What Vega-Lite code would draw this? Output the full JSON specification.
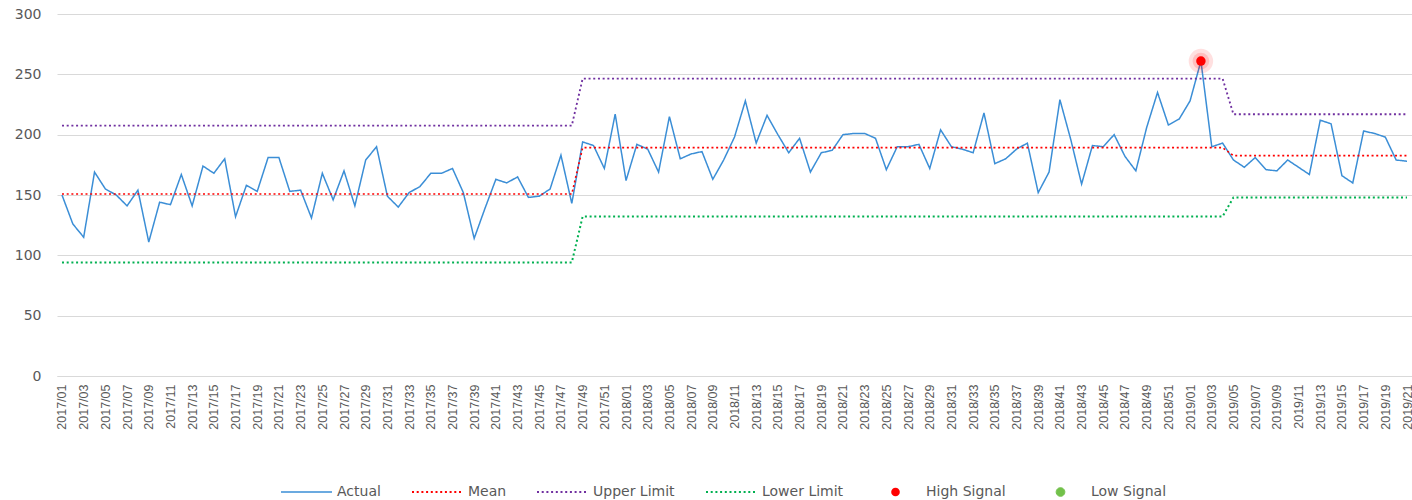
{
  "$schema": "https://vega.github.io/schema/vega-lite/v6.json",
  "autosize": "none",
  "width": 1355,
  "height": 362,
  "padding": {"left": 57, "top": 14, "right": 0, "bottom": 124},
  "background": "white",
  "config": {"view": {"stroke": null}, "font": "DejaVu Sans"},
  "datasets": {
    "main": [
      {"week":"2017/01","Actual":150,"Mean":150.8,"Upper Limit":207.5,"Lower Limit":94.1},
      {"week":"2017/02","Actual":126,"Mean":150.8,"Upper Limit":207.5,"Lower Limit":94.1},
      {"week":"2017/03","Actual":115,"Mean":150.8,"Upper Limit":207.5,"Lower Limit":94.1},
      {"week":"2017/04","Actual":169,"Mean":150.8,"Upper Limit":207.5,"Lower Limit":94.1},
      {"week":"2017/05","Actual":155,"Mean":150.8,"Upper Limit":207.5,"Lower Limit":94.1},
      {"week":"2017/06","Actual":150,"Mean":150.8,"Upper Limit":207.5,"Lower Limit":94.1},
      {"week":"2017/07","Actual":141,"Mean":150.8,"Upper Limit":207.5,"Lower Limit":94.1},
      {"week":"2017/08","Actual":154,"Mean":150.8,"Upper Limit":207.5,"Lower Limit":94.1},
      {"week":"2017/09","Actual":111,"Mean":150.8,"Upper Limit":207.5,"Lower Limit":94.1},
      {"week":"2017/10","Actual":144,"Mean":150.8,"Upper Limit":207.5,"Lower Limit":94.1},
      {"week":"2017/11","Actual":142,"Mean":150.8,"Upper Limit":207.5,"Lower Limit":94.1},
      {"week":"2017/12","Actual":167,"Mean":150.8,"Upper Limit":207.5,"Lower Limit":94.1},
      {"week":"2017/13","Actual":141,"Mean":150.8,"Upper Limit":207.5,"Lower Limit":94.1},
      {"week":"2017/14","Actual":174,"Mean":150.8,"Upper Limit":207.5,"Lower Limit":94.1},
      {"week":"2017/15","Actual":168,"Mean":150.8,"Upper Limit":207.5,"Lower Limit":94.1},
      {"week":"2017/16","Actual":180,"Mean":150.8,"Upper Limit":207.5,"Lower Limit":94.1},
      {"week":"2017/17","Actual":132,"Mean":150.8,"Upper Limit":207.5,"Lower Limit":94.1},
      {"week":"2017/18","Actual":158,"Mean":150.8,"Upper Limit":207.5,"Lower Limit":94.1},
      {"week":"2017/19","Actual":153,"Mean":150.8,"Upper Limit":207.5,"Lower Limit":94.1},
      {"week":"2017/20","Actual":181,"Mean":150.8,"Upper Limit":207.5,"Lower Limit":94.1},
      {"week":"2017/21","Actual":181,"Mean":150.8,"Upper Limit":207.5,"Lower Limit":94.1},
      {"week":"2017/22","Actual":153,"Mean":150.8,"Upper Limit":207.5,"Lower Limit":94.1},
      {"week":"2017/23","Actual":154,"Mean":150.8,"Upper Limit":207.5,"Lower Limit":94.1},
      {"week":"2017/24","Actual":131,"Mean":150.8,"Upper Limit":207.5,"Lower Limit":94.1},
      {"week":"2017/25","Actual":168,"Mean":150.8,"Upper Limit":207.5,"Lower Limit":94.1},
      {"week":"2017/26","Actual":146,"Mean":150.8,"Upper Limit":207.5,"Lower Limit":94.1},
      {"week":"2017/27","Actual":170,"Mean":150.8,"Upper Limit":207.5,"Lower Limit":94.1},
      {"week":"2017/28","Actual":141,"Mean":150.8,"Upper Limit":207.5,"Lower Limit":94.1},
      {"week":"2017/29","Actual":179,"Mean":150.8,"Upper Limit":207.5,"Lower Limit":94.1},
      {"week":"2017/30","Actual":190,"Mean":150.8,"Upper Limit":207.5,"Lower Limit":94.1},
      {"week":"2017/31","Actual":149,"Mean":150.8,"Upper Limit":207.5,"Lower Limit":94.1},
      {"week":"2017/32","Actual":140,"Mean":150.8,"Upper Limit":207.5,"Lower Limit":94.1},
      {"week":"2017/33","Actual":152,"Mean":150.8,"Upper Limit":207.5,"Lower Limit":94.1},
      {"week":"2017/34","Actual":157,"Mean":150.8,"Upper Limit":207.5,"Lower Limit":94.1},
      {"week":"2017/35","Actual":168,"Mean":150.8,"Upper Limit":207.5,"Lower Limit":94.1},
      {"week":"2017/36","Actual":168,"Mean":150.8,"Upper Limit":207.5,"Lower Limit":94.1},
      {"week":"2017/37","Actual":172,"Mean":150.8,"Upper Limit":207.5,"Lower Limit":94.1},
      {"week":"2017/38","Actual":152,"Mean":150.8,"Upper Limit":207.5,"Lower Limit":94.1},
      {"week":"2017/39","Actual":114,"Mean":150.8,"Upper Limit":207.5,"Lower Limit":94.1},
      {"week":"2017/40","Actual":139,"Mean":150.8,"Upper Limit":207.5,"Lower Limit":94.1},
      {"week":"2017/41","Actual":163,"Mean":150.8,"Upper Limit":207.5,"Lower Limit":94.1},
      {"week":"2017/42","Actual":160,"Mean":150.8,"Upper Limit":207.5,"Lower Limit":94.1},
      {"week":"2017/43","Actual":165,"Mean":150.8,"Upper Limit":207.5,"Lower Limit":94.1},
      {"week":"2017/44","Actual":148,"Mean":150.8,"Upper Limit":207.5,"Lower Limit":94.1},
      {"week":"2017/45","Actual":149,"Mean":150.8,"Upper Limit":207.5,"Lower Limit":94.1},
      {"week":"2017/46","Actual":155,"Mean":150.8,"Upper Limit":207.5,"Lower Limit":94.1},
      {"week":"2017/47","Actual":183,"Mean":150.8,"Upper Limit":207.5,"Lower Limit":94.1},
      {"week":"2017/48","Actual":143,"Mean":150.8,"Upper Limit":207.5,"Lower Limit":94.1},
      {"week":"2017/49","Actual":194,"Mean":189.2,"Upper Limit":246.5,"Lower Limit":132.2},
      {"week":"2017/50","Actual":191,"Mean":189.2,"Upper Limit":246.5,"Lower Limit":132.2},
      {"week":"2017/51","Actual":172,"Mean":189.2,"Upper Limit":246.5,"Lower Limit":132.2},
      {"week":"2017/52","Actual":217,"Mean":189.2,"Upper Limit":246.5,"Lower Limit":132.2},
      {"week":"2018/01","Actual":162,"Mean":189.2,"Upper Limit":246.5,"Lower Limit":132.2},
      {"week":"2018/02","Actual":192,"Mean":189.2,"Upper Limit":246.5,"Lower Limit":132.2},
      {"week":"2018/03","Actual":188,"Mean":189.2,"Upper Limit":246.5,"Lower Limit":132.2},
      {"week":"2018/04","Actual":169,"Mean":189.2,"Upper Limit":246.5,"Lower Limit":132.2},
      {"week":"2018/05","Actual":215,"Mean":189.2,"Upper Limit":246.5,"Lower Limit":132.2},
      {"week":"2018/06","Actual":180,"Mean":189.2,"Upper Limit":246.5,"Lower Limit":132.2},
      {"week":"2018/07","Actual":184,"Mean":189.2,"Upper Limit":246.5,"Lower Limit":132.2},
      {"week":"2018/08","Actual":186,"Mean":189.2,"Upper Limit":246.5,"Lower Limit":132.2},
      {"week":"2018/09","Actual":163,"Mean":189.2,"Upper Limit":246.5,"Lower Limit":132.2},
      {"week":"2018/10","Actual":179,"Mean":189.2,"Upper Limit":246.5,"Lower Limit":132.2},
      {"week":"2018/11","Actual":198,"Mean":189.2,"Upper Limit":246.5,"Lower Limit":132.2},
      {"week":"2018/12","Actual":228,"Mean":189.2,"Upper Limit":246.5,"Lower Limit":132.2},
      {"week":"2018/13","Actual":193,"Mean":189.2,"Upper Limit":246.5,"Lower Limit":132.2},
      {"week":"2018/14","Actual":216,"Mean":189.2,"Upper Limit":246.5,"Lower Limit":132.2},
      {"week":"2018/15","Actual":200,"Mean":189.2,"Upper Limit":246.5,"Lower Limit":132.2},
      {"week":"2018/16","Actual":185,"Mean":189.2,"Upper Limit":246.5,"Lower Limit":132.2},
      {"week":"2018/17","Actual":197,"Mean":189.2,"Upper Limit":246.5,"Lower Limit":132.2},
      {"week":"2018/18","Actual":169,"Mean":189.2,"Upper Limit":246.5,"Lower Limit":132.2},
      {"week":"2018/19","Actual":185,"Mean":189.2,"Upper Limit":246.5,"Lower Limit":132.2},
      {"week":"2018/20","Actual":187,"Mean":189.2,"Upper Limit":246.5,"Lower Limit":132.2},
      {"week":"2018/21","Actual":200,"Mean":189.2,"Upper Limit":246.5,"Lower Limit":132.2},
      {"week":"2018/22","Actual":201,"Mean":189.2,"Upper Limit":246.5,"Lower Limit":132.2},
      {"week":"2018/23","Actual":201,"Mean":189.2,"Upper Limit":246.5,"Lower Limit":132.2},
      {"week":"2018/24","Actual":197,"Mean":189.2,"Upper Limit":246.5,"Lower Limit":132.2},
      {"week":"2018/25","Actual":171,"Mean":189.2,"Upper Limit":246.5,"Lower Limit":132.2},
      {"week":"2018/26","Actual":190,"Mean":189.2,"Upper Limit":246.5,"Lower Limit":132.2},
      {"week":"2018/27","Actual":190,"Mean":189.2,"Upper Limit":246.5,"Lower Limit":132.2},
      {"week":"2018/28","Actual":192,"Mean":189.2,"Upper Limit":246.5,"Lower Limit":132.2},
      {"week":"2018/29","Actual":172,"Mean":189.2,"Upper Limit":246.5,"Lower Limit":132.2},
      {"week":"2018/30","Actual":204,"Mean":189.2,"Upper Limit":246.5,"Lower Limit":132.2},
      {"week":"2018/31","Actual":190,"Mean":189.2,"Upper Limit":246.5,"Lower Limit":132.2},
      {"week":"2018/32","Actual":188,"Mean":189.2,"Upper Limit":246.5,"Lower Limit":132.2},
      {"week":"2018/33","Actual":185,"Mean":189.2,"Upper Limit":246.5,"Lower Limit":132.2},
      {"week":"2018/34","Actual":218,"Mean":189.2,"Upper Limit":246.5,"Lower Limit":132.2},
      {"week":"2018/35","Actual":176,"Mean":189.2,"Upper Limit":246.5,"Lower Limit":132.2},
      {"week":"2018/36","Actual":180,"Mean":189.2,"Upper Limit":246.5,"Lower Limit":132.2},
      {"week":"2018/37","Actual":188,"Mean":189.2,"Upper Limit":246.5,"Lower Limit":132.2},
      {"week":"2018/38","Actual":193,"Mean":189.2,"Upper Limit":246.5,"Lower Limit":132.2},
      {"week":"2018/39","Actual":152,"Mean":189.2,"Upper Limit":246.5,"Lower Limit":132.2},
      {"week":"2018/40","Actual":169,"Mean":189.2,"Upper Limit":246.5,"Lower Limit":132.2},
      {"week":"2018/41","Actual":229,"Mean":189.2,"Upper Limit":246.5,"Lower Limit":132.2},
      {"week":"2018/42","Actual":196,"Mean":189.2,"Upper Limit":246.5,"Lower Limit":132.2},
      {"week":"2018/43","Actual":159,"Mean":189.2,"Upper Limit":246.5,"Lower Limit":132.2},
      {"week":"2018/44","Actual":191,"Mean":189.2,"Upper Limit":246.5,"Lower Limit":132.2},
      {"week":"2018/45","Actual":190,"Mean":189.2,"Upper Limit":246.5,"Lower Limit":132.2},
      {"week":"2018/46","Actual":200,"Mean":189.2,"Upper Limit":246.5,"Lower Limit":132.2},
      {"week":"2018/47","Actual":182,"Mean":189.2,"Upper Limit":246.5,"Lower Limit":132.2},
      {"week":"2018/48","Actual":170,"Mean":189.2,"Upper Limit":246.5,"Lower Limit":132.2},
      {"week":"2018/49","Actual":206,"Mean":189.2,"Upper Limit":246.5,"Lower Limit":132.2},
      {"week":"2018/50","Actual":235,"Mean":189.2,"Upper Limit":246.5,"Lower Limit":132.2},
      {"week":"2018/51","Actual":208,"Mean":189.2,"Upper Limit":246.5,"Lower Limit":132.2},
      {"week":"2018/52","Actual":213,"Mean":189.2,"Upper Limit":246.5,"Lower Limit":132.2},
      {"week":"2019/01","Actual":228,"Mean":189.2,"Upper Limit":246.5,"Lower Limit":132.2},
      {"week":"2019/02","Actual":261,"Mean":189.2,"Upper Limit":246.5,"Lower Limit":132.2},
      {"week":"2019/03","Actual":190,"Mean":189.2,"Upper Limit":246.5,"Lower Limit":132.2},
      {"week":"2019/04","Actual":193,"Mean":189.2,"Upper Limit":246.5,"Lower Limit":132.2},
      {"week":"2019/05","Actual":179,"Mean":182.6,"Upper Limit":216.9,"Lower Limit":148.0},
      {"week":"2019/06","Actual":173,"Mean":182.6,"Upper Limit":216.9,"Lower Limit":148.0},
      {"week":"2019/07","Actual":181,"Mean":182.6,"Upper Limit":216.9,"Lower Limit":148.0},
      {"week":"2019/08","Actual":171,"Mean":182.6,"Upper Limit":216.9,"Lower Limit":148.0},
      {"week":"2019/09","Actual":170,"Mean":182.6,"Upper Limit":216.9,"Lower Limit":148.0},
      {"week":"2019/10","Actual":179,"Mean":182.6,"Upper Limit":216.9,"Lower Limit":148.0},
      {"week":"2019/11","Actual":173,"Mean":182.6,"Upper Limit":216.9,"Lower Limit":148.0},
      {"week":"2019/12","Actual":167,"Mean":182.6,"Upper Limit":216.9,"Lower Limit":148.0},
      {"week":"2019/13","Actual":212,"Mean":182.6,"Upper Limit":216.9,"Lower Limit":148.0},
      {"week":"2019/14","Actual":209,"Mean":182.6,"Upper Limit":216.9,"Lower Limit":148.0},
      {"week":"2019/15","Actual":166,"Mean":182.6,"Upper Limit":216.9,"Lower Limit":148.0},
      {"week":"2019/16","Actual":160,"Mean":182.6,"Upper Limit":216.9,"Lower Limit":148.0},
      {"week":"2019/17","Actual":203,"Mean":182.6,"Upper Limit":216.9,"Lower Limit":148.0},
      {"week":"2019/18","Actual":201,"Mean":182.6,"Upper Limit":216.9,"Lower Limit":148.0},
      {"week":"2019/19","Actual":198,"Mean":182.6,"Upper Limit":216.9,"Lower Limit":148.0},
      {"week":"2019/20","Actual":179,"Mean":182.6,"Upper Limit":216.9,"Lower Limit":148.0},
      {"week":"2019/21","Actual":178,"Mean":182.6,"Upper Limit":216.9,"Lower Limit":148.0}
    ],
    "signals": [
      {"week":"2019/02","series":"High Signal","value":261}
    ]
  },
  "encoding": {
    "x": {
      "field": "week", "type": "ordinal", "title": null,
      "scale": {"type": "point", "padding": 0.46},
      "axis": {
        "values": ["2017/01","2017/03","2017/05","2017/07","2017/09","2017/11","2017/13","2017/15","2017/17","2017/19","2017/21","2017/23","2017/25","2017/27","2017/29","2017/31","2017/33","2017/35","2017/37","2017/39","2017/41","2017/43","2017/45","2017/47","2017/49","2017/51","2018/01","2018/03","2018/05","2018/07","2018/09","2018/11","2018/13","2018/15","2018/17","2018/19","2018/21","2018/23","2018/25","2018/27","2018/29","2018/31","2018/33","2018/35","2018/37","2018/39","2018/41","2018/43","2018/45","2018/47","2018/49","2018/51","2019/01","2019/03","2019/05","2019/07","2019/09","2019/11","2019/13","2019/15","2019/17","2019/19","2019/21"],
        "labelAngle": 270, "ticks": false, "grid": false, "domain": true,
        "domainColor": "#d9d9d9", "labelColor": "#595959",
        "labelFont": "Liberation Sans", "labelFontSize": 12.5, "labelPadding": 8,
        "labelOverlap": false, "labelBound": false
      }
    },
    "y": {
      "field": "value", "type": "quantitative", "title": null,
      "scale": {"domain": [0, 300]},
      "axis": {
        "values": [0, 50, 100, 150, 200, 250, 300],
        "ticks": false, "domain": false, "grid": true, "gridColor": "#d9d9d9",
        "labelColor": "#595959", "labelFont": "DejaVu Sans", "labelFontSize": 14,
        "labelPadding": 16
      }
    }
  },
  "layer": [
    {
      "data": {"name": "main"},
      "transform": [{"fold": ["Actual", "Mean", "Upper Limit", "Lower Limit"], "as": ["series", "value"]}],
      "mark": {"type": "line", "interpolate": "linear"},
      "encoding": {
        "color": {
          "field": "series", "type": "nominal", "title": null,
          "scale": {
            "domain": ["Actual", "Mean", "Upper Limit", "Lower Limit", "High Signal", "Low Signal"],
            "range": ["#3B8ED6", "#FF0000", "#7030A0", "#00B050", "#FF0000", "#72C14A"]
          },
          "legend": {
            "orient": "none", "legendX": 242.5, "legendY": 471, "direction": "horizontal",
            "symbolType": "stroke", "symbolSize": 2601, "symbolStrokeWidth": 2,
            "labelFont": "DejaVu Sans", "labelFontSize": 14, "labelColor": "#595959",
            "labelOffset": 23.5, "columnPadding": 26,
            "encode": {
              "symbols": {
                "update": {
                  "shape": {"signal": "datum.value === 'High Signal' || datum.value === 'Low Signal' ? 'M -1 0 M 1 0 M -0.17 0 A 0.17 0.17 0 1 0 0.17 0 A 0.17 0.17 0 1 0 -0.17 0 Z' : 'stroke'"},
                  "size": {"value": 2601},
                  "fill": {"signal": "datum.value === 'High Signal' ? '#FF0000' : datum.value === 'Low Signal' ? '#72C14A' : 'transparent'"},
                  "stroke": {"signal": "datum.value === 'High Signal' ? 'transparent' : datum.value === 'Low Signal' ? '#4EA72E' : scale('color', datum.value)"},
                  "strokeWidth": {"signal": "datum.value === 'Actual' ? 1.5 : datum.value === 'High Signal' ? 0 : datum.value === 'Low Signal' ? 1 : 2"}
                }
              }
            }
          }
        },
        "strokeDash": {
          "field": "series", "type": "nominal", "title": null,
          "scale": {
            "domain": ["Actual", "Mean", "Upper Limit", "Lower Limit", "High Signal", "Low Signal"],
            "range": [[1, 0], [2, 2.7], [2, 2.7], [2, 2.7], [1, 0], [1, 0]]
          }
        },
        "strokeWidth": {
          "field": "series", "type": "nominal", "legend": null,
          "scale": {"domain": ["Actual", "Mean", "Upper Limit", "Lower Limit"], "range": [1.5, 2, 2, 2]}
        }
      }
    },
    {
      "data": {"name": "signals"},
      "mark": {"type": "circle", "size": 600, "opacity": 0.12, "color": "#FF0000"},
      "encoding": {}
    },
    {
      "data": {"name": "signals"},
      "mark": {"type": "circle", "size": 280, "opacity": 0.15, "color": "#FF0000"},
      "encoding": {}
    },
    {
      "data": {"name": "signals"},
      "mark": {"type": "circle", "size": 90, "opacity": 1},
      "encoding": {
        "color": {"field": "series", "type": "nominal", "title": null}
      }
    }
  ]
}
